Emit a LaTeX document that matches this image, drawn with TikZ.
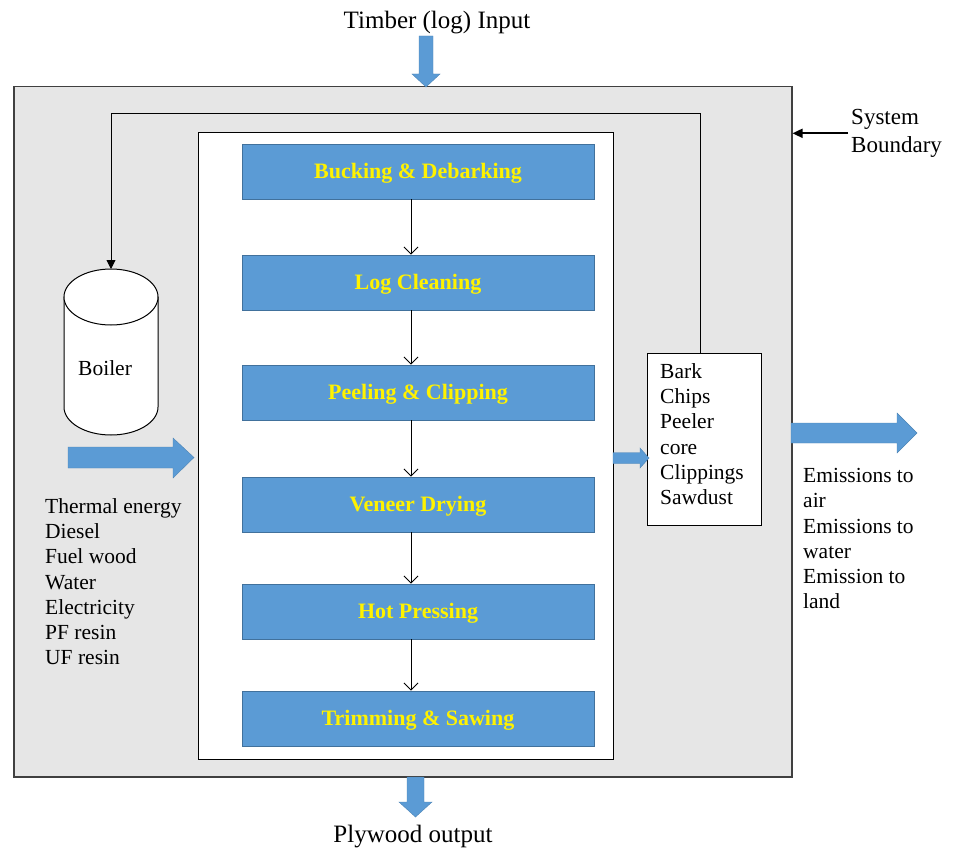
\documentclass[tikz,border=0pt]{standalone}
\usepackage{fontspec}
\setmainfont{Liberation Serif}
\usetikzlibrary{arrows.meta}
\definecolor{procblue}{HTML}{5B9BD5}
\definecolor{procedge}{HTML}{41719C}
\definecolor{boundgray}{HTML}{E6E6E6}
\definecolor{boundedge}{HTML}{404040}
\tikzset{
  procbox/.style={draw=procedge, line width=0.8pt, fill=procblue,
    minimum width=352pt, minimum height=55pt, inner sep=0pt,
    text height=14.9pt, text depth=0pt,
    text=yellow, font=\fontsize{22}{25}\selectfont\bfseries},
  flowarrow/.style={line width=0.9pt, -{Straight Barb[length=7pt,width=14pt]}},
  blockarrow/.style={fill=procblue, draw=procblue!85!black, line width=0.4pt},
  plaintext/.style={font=\fontsize{21.5}{25.3}\selectfont, inner sep=0pt,
    align=left, anchor=north west},
}
\begin{document}
\begin{tikzpicture}[x=1pt,y=-1pt]
\useasboundingbox (0,0) rectangle (968,848);

% system boundary and process area
\node[draw=boundedge, line width=1.5pt, fill=boundgray, minimum width=778pt,
  minimum height=690pt, inner sep=0pt, anchor=north west] (sysbound) at (13,86) {};
\node[draw=black, line width=1.2pt, fill=white, minimum width=415pt,
  minimum height=627pt, inner sep=0pt, anchor=north west] (core) at (198,132) {};

% process steps
\node[procbox] (s1) at (418,171.5) {Bucking \& Debarking};
\node[procbox] (s2) at (418,282.5) {Log Cleaning};
\node[procbox] (s3) at (418,392.5) {Peeling \& Clipping};
\node[procbox] (s4) at (418,504.5) {Veneer Drying};
\node[procbox] (s5) at (418,611.5) {Hot Pressing};
\node[procbox] (s6) at (418,718.5) {Trimming \& Sawing};
\foreach \a/\b in {s1/s2,s2/s3,s3/s4,s4/s5,s5/s6}
  \draw[flowarrow] ([xshift=-7pt]\a.south) -- ([xshift=-7pt]\b.north);

% waste box
\node[draw=black, line width=0.9pt, fill=white, minimum width=114pt,
  minimum height=172pt, inner sep=0pt, anchor=north west] (waste) at (647,353) {};
\node[plaintext] (wastetext) at (660,363) {Bark\\Chips\\Peeler\\core\\Clippings\\Sawdust};

% boiler
\draw[line width=1pt, fill=white] (64,297) -- (64,407)
  arc[start angle=180, end angle=360, x radius=47pt, y radius=28pt] -- (158,297) -- cycle;
\draw[line width=1pt, fill=white] (111,297) ellipse[x radius=47pt, y radius=28pt];
\coordinate (boilertop) at (111,269);
\node[font=\fontsize{21.5}{25}\selectfont, anchor=base west, inner sep=0pt] (boiler) at (78,375) {Boiler};

% residue feedback to the boiler
\coordinate (loop) at (111,113);
\draw[line width=0.9pt, -{Triangle[length=9pt,width=9pt]}]
  ([xshift=-4pt]waste.north) |- (loop) -- (boilertop);

% material and energy flows
\draw[blockarrow] (419,36) -- (433,36) -- (433,74) -- (440,74) -- (426,87) -- (412,74) -- (419,74) -- cycle;
\draw[blockarrow] (407,777) -- (424,777) -- (424,802) -- (432,802) -- (415.5,817) -- (399,802) -- (407,802) -- cycle;
\draw[blockarrow] (68,447) -- (173,447) -- (173,438) -- (194,457.5) -- (173,478) -- (173,468) -- (68,468) -- cycle;
\draw[blockarrow] (613,452.5) -- (640,452.5) -- (640,448) -- (649,458) -- (640,468) -- (640,463.5) -- (613,463.5) -- cycle;
\draw[blockarrow] (791,423) -- (897,423) -- (897,413) -- (917,433) -- (897,453) -- (897,443) -- (791,443) -- cycle;

% labels
\node[anchor=base, font=\fontsize{25}{29}\selectfont, inner sep=0pt] (timber) at (437,29) {Timber (log) Input};
\node[anchor=base, font=\fontsize{25}{29}\selectfont, inner sep=0pt] (plywood) at (413,842) {Plywood output};
\node[plaintext] (inputs) at (45,498) {Thermal energy\\Diesel\\Fuel wood\\Water\\Electricity\\PF resin\\UF resin};
\node[plaintext] (emissions) at (803,468) {Emissions to\\air\\Emissions to\\water\\Emission to\\land};
\node[font=\fontsize{23}{28}\selectfont, inner sep=0pt, align=left, anchor=north west] (sbtext) at (851,109) {System\\Boundary};
\draw[line width=1.8pt, -{Triangle[length=10pt,width=9pt]}] ([xshift=-3pt]sbtext.west) -- (sbtext.west -| sysbound.east);
\end{tikzpicture}
\end{document}
